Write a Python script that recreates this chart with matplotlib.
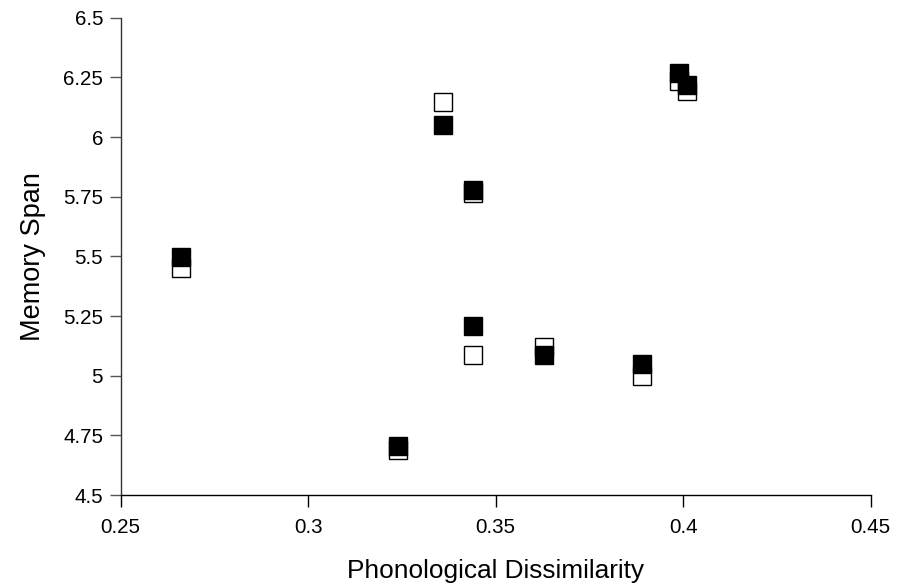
import matplotlib
matplotlib.use("Agg")
import matplotlib.pyplot as plt

plt.rcParams['font.family'] = ['Liberation Sans', 'DejaVu Sans']

# Data (x = phonological dissimilarity, y = memory span)
x_open = [0.266, 0.336, 0.344, 0.344, 0.363, 0.389, 0.324, 0.399, 0.401]
y_open = [5.45, 6.145, 5.765, 5.087, 5.12, 4.997, 4.69, 6.233, 6.191]
x_filled = [0.266, 0.336, 0.344, 0.344, 0.363, 0.389, 0.324, 0.399, 0.401]
y_filled = [5.499, 6.051, 5.779, 5.209, 5.087, 5.047, 4.707, 6.269, 6.22]

xticks = [0.25, 0.3, 0.35, 0.4, 0.45]
xticklabels = ['0.25', '0.3', '0.35', '0.4', '0.45']
yticks = [4.5, 4.75, 5, 5.25, 5.5, 5.75, 6, 6.25, 6.5]
yticklabels = ['4.5', '4.75', '5', '5.25', '5.5', '5.75', '6', '6.25', '6.5']

fig = plt.figure(figsize=(9.07, 5.87), dpi=100)
ax = fig.add_axes([0.1331, 0.1567, 0.96 - 0.1331, 0.9698 - 0.1567])

ax.plot(x_open, y_open, linestyle='none', marker='s', markersize=13.5,
        markerfacecolor='white', markeredgecolor='black', markeredgewidth=1.0, zorder=3, clip_on=False)
ax.plot(x_filled, y_filled, linestyle='none', marker='s', markersize=13.5,
        markerfacecolor='black', markeredgecolor='black', markeredgewidth=1.0, zorder=4, clip_on=False)

ax.set_xlim(0.25, 0.45)
ax.set_ylim(4.5, 6.5)
ax.set_xticks(xticks)
ax.set_xticklabels(xticklabels)
ax.set_yticks(yticks)
ax.set_yticklabels(yticklabels)

for s in ['top', 'right']:
    ax.spines[s].set_visible(False)
ax.spines['left'].set_color('#333333')
ax.spines['bottom'].set_color('black')
ax.spines['left'].set_linewidth(1.0)
ax.spines['bottom'].set_linewidth(1.0)

ax.tick_params(axis='x', direction='out', length=8.4, width=1, labelsize=14.8, pad=8, colors='black')
ax.tick_params(axis='y', direction='out', length=8.2, width=1, labelsize=14.8, pad=4.5, color='#555555', labelcolor='black')

ax.set_xlabel('Phonological Dissimilarity', fontsize=18.9, labelpad=16)
ax.set_ylabel('Memory Span', fontsize=19.5, labelpad=12)

fig.savefig('out.png', dpi=100)
